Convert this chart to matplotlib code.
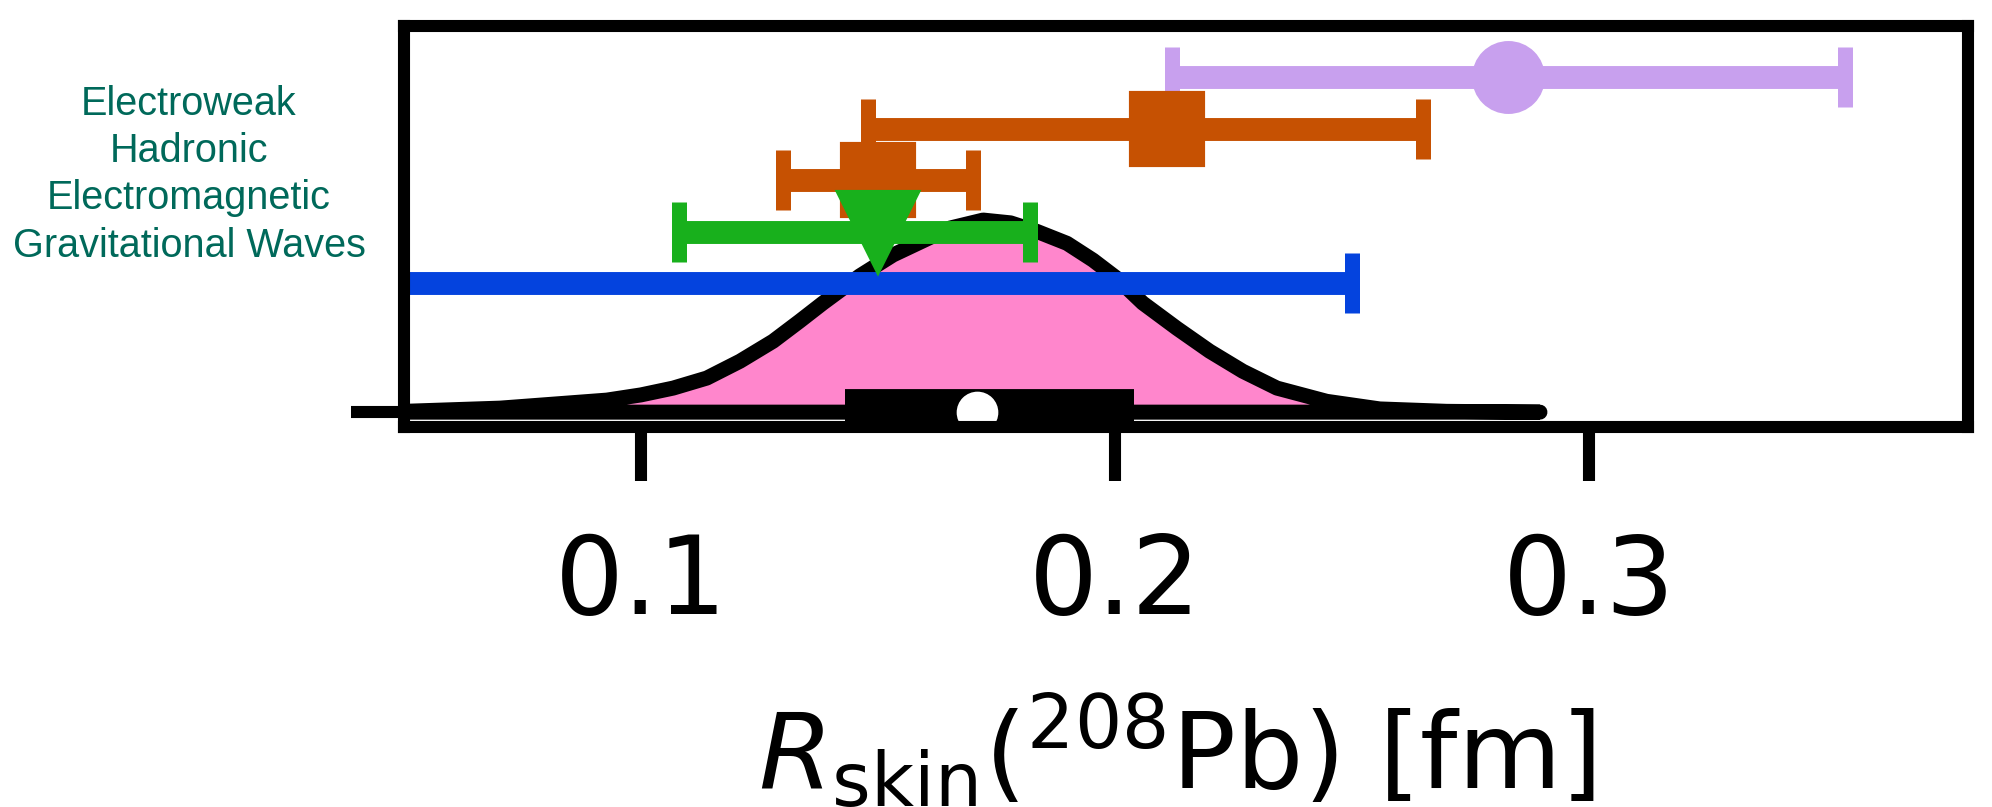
import matplotlib
matplotlib.use("Agg")
import matplotlib.pyplot as plt
import numpy as np

purple_x, purple_lo, purple_hi = 0.283, 0.071, 0.071
orange_big_x, orange_big_lo, orange_big_hi = 0.211, 0.063, 0.054
orange_small_x, orange_small_lo, orange_small_hi = 0.150, 0.020, 0.020
green_x, green_lo, green_hi = 0.150, 0.042, 0.032
blue_x, blue_lo, blue_hi = 0.0, 0.0, 0.25

# row heights on the (0..1) y scale, top to bottom
row_y = [0.872, 0.744, 0.615, 0.486, 0.359]

# half-violin (posterior) shape: x grid and height above the baseline
violin_x = [0.035, 0.0513, 0.0703, 0.0928, 0.1000, 0.1068, 0.1139, 0.1209,
            0.1279, 0.1335, 0.1384, 0.1462, 0.1532, 0.1600, 0.1652, 0.1722,
            0.1780, 0.1835, 0.1899, 0.1954, 0.2004, 0.2059, 0.2131, 0.2200,
            0.2270, 0.2342, 0.2447, 0.2559, 0.2700, 0.2897]
violin_h = [0.0, 0.0025, 0.010, 0.030, 0.043, 0.060, 0.085, 0.127,
            0.177, 0.227, 0.272, 0.340, 0.392, 0.430, 0.459, 0.479,
            0.472, 0.451, 0.421, 0.379, 0.334, 0.272, 0.209, 0.152,
            0.102, 0.060, 0.027, 0.008, 0.002, 0.0]
violin_base = 0.037
box_lo, box_hi = 0.143, 0.204
median = 0.171
whisker_lo, whisker_hi = 0.0388, 0.288

legend_labels = ["Electroweak", "Hadronic", "Electromagnetic", "Gravitational Waves"]
tick_vals = [0.1, 0.2, 0.3]

# colours
c_purple = "#C8A0EE"
c_orange = "#C65102"
c_green = "#18B01C"
c_blue = "#0443DE"
c_pink = "#FF86CC"
c_teal = "#00695A"

fig = plt.figure(figsize=(6.64, 2.69), dpi=300)
ax = fig.add_axes([0.2028, 0.4709, 0.7851, 0.4969])

# violin body
vx = np.array(violin_x)
vy = violin_base + np.array(violin_h)
poly_x = np.concatenate([vx, vx[::-1]])
poly_y = np.concatenate([vy, np.full(len(vx), violin_base)])
ax.fill(poly_x, poly_y, facecolor=c_pink, edgecolor="black", lw=3.6,
        joinstyle="round", zorder=1)

# inner box: whisker, box, median dot
ax.plot([whisker_lo, whisker_hi], [violin_base, violin_base], color="black",
        lw=2.9, solid_capstyle="butt", clip_on=False, zorder=1.1)
ax.plot([box_lo, box_hi], [violin_base, violin_base], color="black",
        lw=11, solid_capstyle="butt", zorder=1.2)
ax.plot([median], [violin_base], "o", color="white", ms=10, mew=0, zorder=1.3)

eb_kw = dict(elinewidth=5.5, capsize=7.3, capthick=3.6, zorder=2)
ax.errorbar([purple_x], [row_y[0]], xerr=[[purple_lo], [purple_hi]],
            fmt="o", ms=16.5, color=c_purple, **eb_kw)
ax.errorbar([orange_big_x], [row_y[1]], xerr=[[orange_big_lo], [orange_big_hi]],
            fmt="s", ms=17.3, color=c_orange, **eb_kw)
ax.errorbar([orange_small_x], [row_y[2]], xerr=[[orange_small_lo], [orange_small_hi]],
            fmt="s", ms=17.3, color=c_orange, **eb_kw)
ax.errorbar([green_x], [row_y[3]], xerr=[[green_lo], [green_hi]],
            fmt="v", ms=19, color=c_green, **eb_kw)
ax.errorbar([blue_x], [row_y[4]], xerr=[[blue_lo], [blue_hi]],
            fmt="none", color=c_blue, **eb_kw)

ax.set_xlim(0.05, 0.38)
ax.set_ylim(0, 1)
ax.set_yticks([])
ax.set_xticks(tick_vals)
ax.set_xticklabels([str(t) for t in tick_vals])
ax.tick_params(axis="x", direction="out", length=13, width=2.9, labelsize=26, pad=12)
for sp in ax.spines.values():
    sp.set_linewidth(2.9)
ax.set_xlabel(r"$R_{\rm skin}$($^{208}$Pb) [fm]", fontsize=25.5, labelpad=13)
ax.xaxis.label.set_x(0.494)

# legend-style labels on the left
baselines_px = [115, 161.7, 209.3, 256.7]
for lab, ypx in zip(legend_labels, baselines_px):
    fig.text(189 / 1992, 1 - ypx / 807, lab, ha="center", va="baseline",
             color=c_teal, family="Liberation Sans", fontsize=9.5)

fig.savefig("out.png", dpi=300)
